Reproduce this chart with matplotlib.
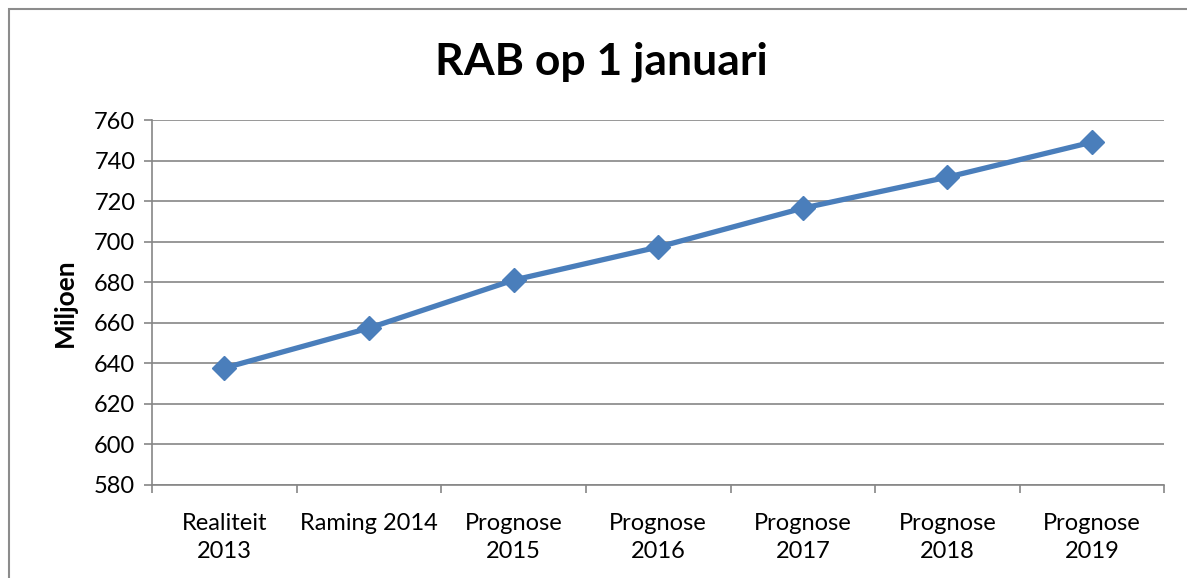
import matplotlib.pyplot as plt
from matplotlib.patches import Rectangle

# Data
categories = ['Realiteit\n2013', 'Raming 2014', 'Prognose\n2015', 'Prognose\n2016',
              'Prognose\n2017', 'Prognose\n2018', 'Prognose\n2019']
rab = [637.7, 657.4, 681.1, 697.4, 716.6, 731.9, 749.2]
yticks = list(range(580, 761, 20))

plt.rcParams['font.family'] = ['Lato', 'DejaVu Sans']

fig = plt.figure(figsize=(11.87, 5.78), dpi=100)
ax = fig.add_axes([0.128, 0.161, 0.853, 0.631])

# outer chart border (cut off at right/bottom like the source)
fig.patches.append(Rectangle((9 / 1187, -0.1), 1.2, 1 - 9 / 578 + 0.1,
                             transform=fig.transFigure, fill=False,
                             edgecolor='#8c8c8c', linewidth=1.5))

x = range(len(categories))
ax.plot(x, rab, color='#4A7EBB', linewidth=3.8, marker='D', markersize=12,
        markeredgecolor='#4A7EBB', markerfacecolor='#4A7EBB', zorder=3)

ax.set_xlim(-0.5, len(categories) - 0.5)
ax.set_ylim(580, 760)
ax.set_yticks(yticks)
ax.grid(axis='y', color='#868686', linewidth=1.2)
ax.set_axisbelow(True)

ax.set_xticks(list(x))
ax.set_xticklabels(categories, fontsize=17)
for lbl in ax.get_xticklabels():
    lbl.set_linespacing(1.45)
ax.set_xticks([i - 0.5 for i in range(len(categories) + 1)], minor=True)
ax.tick_params(axis='x', which='major', length=0, pad=20)
ax.tick_params(axis='x', which='minor', length=6, color='#868686', width=1.2)
ax.tick_params(axis='y', length=6, color='#868686', width=1.2, labelsize=17, pad=6)

for s in ['top', 'right']:
    ax.spines[s].set_visible(False)
for s in ['left', 'bottom']:
    ax.spines[s].set_color('#868686')
    ax.spines[s].set_linewidth(1.2)

ax.set_ylabel('Miljoen', fontsize=19, fontweight='bold', labelpad=12)
fig.text(0.507, 0.893, 'RAB op 1 januari', ha='center', va='center',
         fontsize=32, fontweight='bold')

fig.savefig('out.png', dpi=100)
